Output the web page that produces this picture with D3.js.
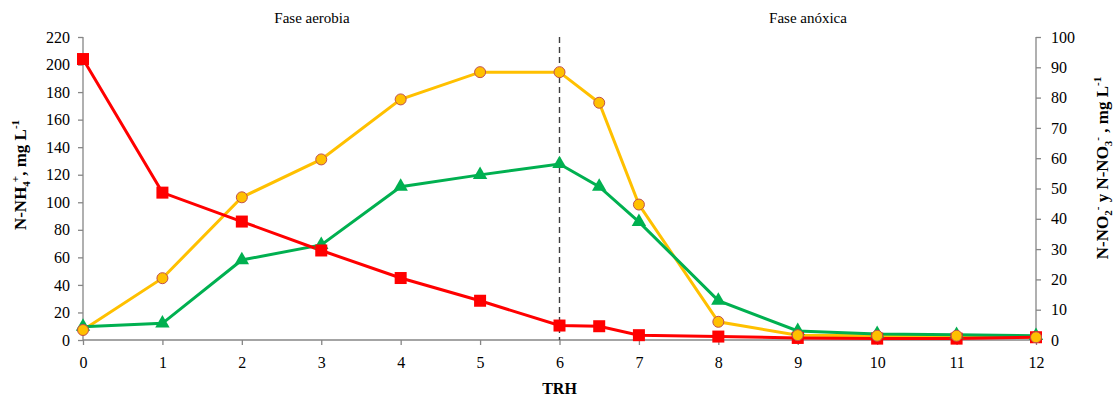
<!DOCTYPE html>
<html><head><meta charset="utf-8">
<script src="https://cdn.jsdelivr.net/npm/d3@7"></script>
<style>
body{margin:0;background:#fff;}
svg{display:block;font-family:'Liberation Serif','Times New Roman',serif;}
svg text{font-family:'Liberation Serif','Times New Roman',serif !important;}
</style></head>
<body><svg id="c" width="1116" height="401"></svg>
<script>
const trh = [0,1,2,3,4,5,6,6.5,7,8,9,10,11,12];
const nh4 = [204,107,86,65,45,28.5,10.5,10,3.5,2.5,1.5,1,1,2];          // left axis
const no3 = [3.3,20.4,47.1,59.6,79.4,88.4,88.4,78.3,44.7,6,1.6,1.4,1.4,0.9]; // right axis
const no2 = [4.4,5.5,26.4,31.4,50.6,54.5,58.1,50.6,39,13,3,2,1.7,1.4];    // right axis
const xTicks = [0,1,2,3,4,5,6,7,8,9,10,11,12];
const leftTicks = [0,20,40,60,80,100,120,140,160,180,200,220];
const rightTicks = [0,10,20,30,40,50,60,70,80,90,100];
const phases = ["Fase aerobia","Fase anóxica"];

const svg = d3.select("#c");
const x = d3.scaleLinear().domain([0,12]).range([83,1036]);
const yL = d3.scaleLinear().domain([0,220]).range([340,37]);
const yR = d3.scaleLinear().domain([0,100]).range([340,37]);
const axisCol = "#868686";

// axes
const gx = svg.append("g").attr("transform","translate(0,340)")
  .call(d3.axisBottom(x).tickValues(xTicks).tickSize(5).tickPadding(12).tickFormat(d3.format("d")));
const gl = svg.append("g").attr("transform","translate(83,0)")
  .call(d3.axisLeft(yL).tickValues(leftTicks).tickSize(5).tickPadding(8));
const gr = svg.append("g").attr("transform","translate(1036,0)")
  .call(d3.axisRight(yR).tickValues(rightTicks).tickSize(5).tickPadding(10));
[gx,gl,gr].forEach(g=>{
  g.attr("font-family",null);
  g.select(".domain").attr("stroke",axisCol).attr("stroke-width",1.3);
  g.selectAll(".tick line").attr("stroke",axisCol).attr("stroke-width",1.3);
  g.selectAll(".tick text").attr("fill","#000").style("font-size","16px");
});
gl.select(".domain").attr("d","M0,37V340");
gr.select(".domain").attr("d","M0,37V340");
gx.select(".domain").attr("d","M83,0H1036");

// dashed divider at 6
svg.append("line").attr("x1",x(6)).attr("x2",x(6)).attr("y1",37).attr("y2",340)
  .attr("stroke","#404040").attr("stroke-width",1.4).attr("stroke-dasharray","6,4");

const pts = (arr, ys) => arr.map((v,i)=>[x(trh[i]), ys(v)]);
const line = d3.line();

// orange NO3
svg.append("path").attr("d",line(pts(no3,yR))).attr("fill","none").attr("stroke","#FFC000").attr("stroke-width",3);
// green NO2
svg.append("path").attr("d",line(pts(no2,yR))).attr("fill","none").attr("stroke","#00B050").attr("stroke-width",3);
// red NH4
svg.append("path").attr("d",line(pts(nh4,yL))).attr("fill","none").attr("stroke","#FF0000").attr("stroke-width",3);

// markers
svg.append("g").selectAll("path").data(pts(no2,yR)).join("path")
  .attr("transform",d=>`translate(${d[0]},${d[1]})`)
  .attr("d",d3.symbol(d3.symbolTriangle,90)).attr("fill","#00B050");
svg.append("g").selectAll("rect").data(pts(nh4,yL)).join("rect")
  .attr("x",d=>d[0]-6).attr("y",d=>d[1]-6).attr("width",12).attr("height",12).attr("fill","#FF0000");
svg.append("g").selectAll("circle").data(pts(no3,yR)).join("circle")
  .attr("cx",d=>d[0]).attr("cy",d=>d[1]).attr("r",5.5)
  .attr("fill","#FFC000").attr("stroke","#C0504D").attr("stroke-width",1);

// phase labels
svg.append("text").attr("x",312).attr("y",23).attr("text-anchor","middle").style("font-size","15px").text(phases[0]);
svg.append("text").attr("x",808).attr("y",23).attr("text-anchor","middle").style("font-size","15px").text(phases[1]);

// x title
svg.append("text").attr("x",x(6)).attr("y",394).attr("text-anchor","middle")
  .style("font-size","16px").style("font-weight","bold").text("TRH");

// left title
const lt = svg.append("text").attr("transform","translate(26,175) rotate(-90)").attr("text-anchor","middle")
  .style("font-size","17px").style("font-weight","bold");
lt.append("tspan").text("N-NH");
lt.append("tspan").attr("dy",4).style("font-size","11px").text("4");
lt.append("tspan").attr("dy",-11).attr("dx",-1).style("font-size","11px").text("+");
lt.append("tspan").attr("dy",7).text(", mg L");
lt.append("tspan").attr("dy",-7).style("font-size","11px").text("-1");

// right title
const rt = svg.append("text").attr("transform","translate(1108,168) rotate(-90)").attr("text-anchor","middle")
  .style("font-size","17px").style("font-weight","bold");
rt.append("tspan").text("N-NO");
rt.append("tspan").attr("dy",4).style("font-size","11px").text("2");
rt.append("tspan").attr("dy",-11).style("font-size","11px").text("-");
rt.append("tspan").attr("dy",7).text(" y N-NO");
rt.append("tspan").attr("dy",4).style("font-size","11px").text("3");
rt.append("tspan").attr("dy",-11).style("font-size","11px").text("-");
rt.append("tspan").attr("dy",7).text(" , mg L");
rt.append("tspan").attr("dy",-7).style("font-size","11px").text("-1");
</script></body></html>
